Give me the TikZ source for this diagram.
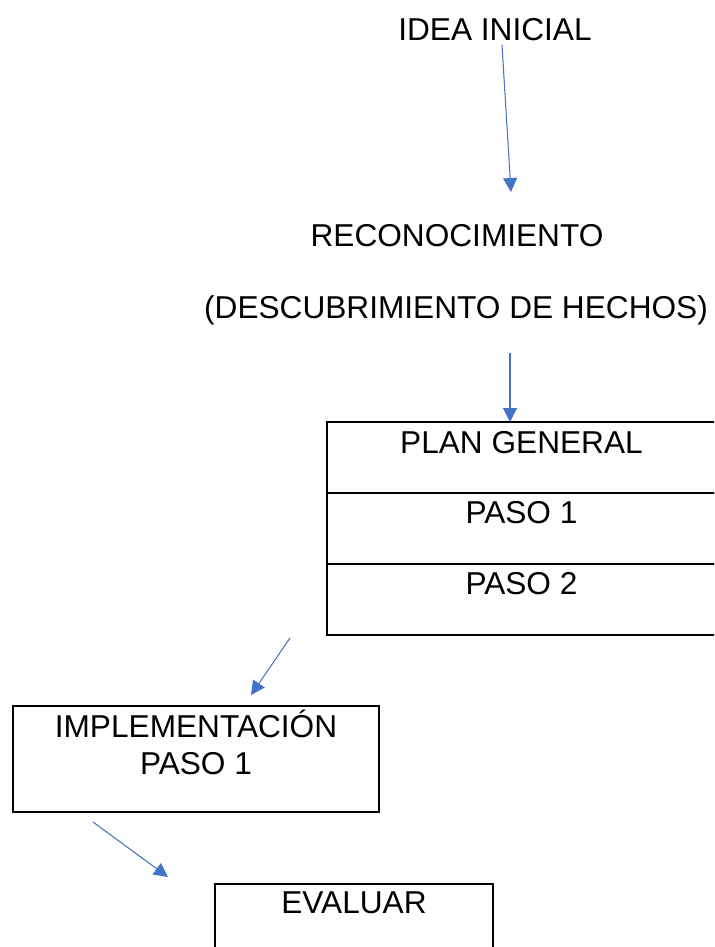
\documentclass[tikz,border=0pt]{standalone}
\usepackage{fontspec}
\setmainfont{Liberation Sans}
\usetikzlibrary{arrows.meta,positioning}
\definecolor{azul}{RGB}{68,114,196}
\tikzset{
	texto/.style={inner sep=0pt, font=\fontsize{18}{21}\selectfont},
	flecha/.style={draw=azul, line width=0.6pt, -{Triangle[length=2.8mm,width=2.8mm]}, azul},
	celda/.style={texto, draw, line width=1.1pt, outer sep=0pt, minimum width=7.78cm, text height=0.62cm, text depth=0.8cm},
	caja/.style={draw, line width=1.1pt, inner sep=0pt, outer sep=0pt}
}

\begin{document}
\begin{tikzpicture}[x=0.02cm, y=-0.02cm]
			%%%%% START %%%%%
			\useasboundingbox (0, 0) rectangle (714, 947);
			\clip (0, 0) rectangle (714, 947);
			
			\node[texto, anchor=base] (idea) at (495, 40) {IDEA INICIAL};
			\node[texto, anchor=base] (recon) at (457, 246) {RECONOCIMIENTO};
			\node[texto, anchor=base] (descub) at (456, 318) {(DESCUBRIMIENTO DE HECHOS)};
			
			% tabla del plan
			\node[celda, anchor=north west] (plan) at (327, 422) {PLAN GENERAL};
			\node[celda, below=0pt of plan] (paso1) {PASO 1};
			\node[celda, below=0pt of paso1] (paso2) {PASO 2};
			
			\node[caja, minimum width=7.32cm, minimum height=2.12cm, anchor=north west] (impl) at (13, 706) {};
			\node[texto, align=center, anchor=base] (impltxt) at (196, 774) {IMPLEMENTACIÓN\\PASO 1};
			
			\node[caja, minimum width=5.56cm, minimum height=2.4cm, anchor=north west] (eval) at (215, 884) {};
			\node[texto, anchor=base] (evaltxt) at (354, 913) {EVALUAR};
			
			% flechas
			\coordinate (f1a) at (502, 45);
			\coordinate (f1b) at (511, 192);
			\coordinate (f2a) at (510, 353);
			\coordinate (f3a) at (290, 638);
			\coordinate (f3b) at (251, 695);
			\coordinate (f4a) at (93, 822);
			\coordinate (f4b) at (168, 877);
			\draw[flecha] (f1a) -- (f1b);
			\draw[flecha] (f2a) -- (plan.north -| f2a);
			\draw[flecha] (f3a) -- (f3b);
			\draw[flecha] (f4a) -- (f4b);
			%%%%% END %%%%%
\end{tikzpicture}
\end{document}
